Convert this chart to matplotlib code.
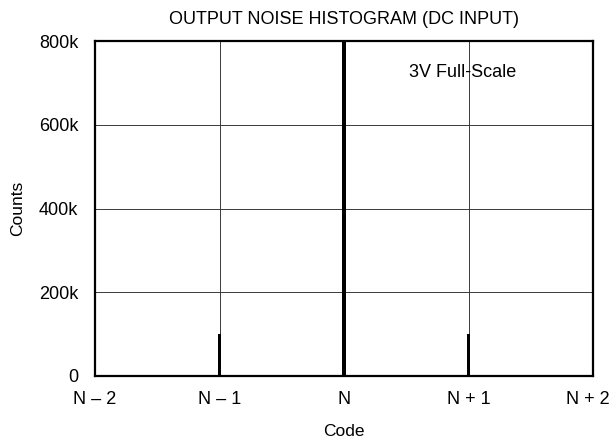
import matplotlib.pyplot as plt
import matplotlib.transforms as mtransforms
from matplotlib.ticker import FuncFormatter

plt.rcParams['font.family'] = ['Liberation Sans', 'DejaVu Sans']

codes = [-2, -1, 0, 1, 2]
code_labels = ['N – 2', 'N – 1', 'N', 'N + 1', 'N + 2']
counts = [0, 100000, 850000, 100000, 0]

fig = plt.figure(figsize=(6.12, 4.43), dpi=100)
# axes box: x 95..593 px, y 41..376 px
ax = fig.add_axes([95 / 612, (443 - 376) / 443, 498 / 612, 335 / 443])

ax.bar(codes, counts, width=0.03, color='black', zorder=3)

ax.set_xlim(-2, 2)
ax.set_ylim(0, 800000)
ax.set_xticks(codes)
ax.set_xticklabels(code_labels)
ax.set_yticks([0, 200000, 400000, 600000, 800000])
ax.yaxis.set_major_formatter(FuncFormatter(lambda v, p: '0' if v == 0 else f'{int(v/1000)}k'))
ax.grid(True, color='#3a3a3a', linewidth=0.7)
ax.tick_params(length=0, labelsize=13)
ax.tick_params(axis='x', pad=11)
ax.tick_params(axis='y', pad=12)
for s in ax.spines.values():
    s.set_linewidth(1.6)

# nudge the last code label so it stays inside the figure
last = ax.get_xticklabels()[-1]
last.set_transform(last.get_transform() + mtransforms.ScaledTranslation(-5 / 100, 0, fig.dpi_scale_trans))

ax.set_xlabel('Code', fontsize=12.5, labelpad=11)
ax.set_ylabel('Counts', fontsize=12.5, labelpad=10)
ax.set_title('OUTPUT NOISE HISTOGRAM (DC INPUT)', fontsize=13, pad=12)
ax.text(0.63, 0.905, '3V Full-Scale', transform=ax.transAxes, fontsize=13, va='center')

fig.savefig('out.png', dpi=100)
